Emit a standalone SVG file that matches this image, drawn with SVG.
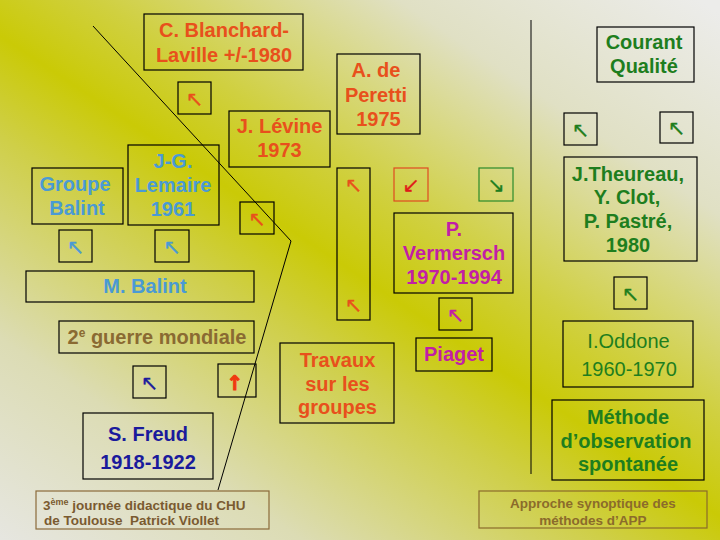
<svg xmlns="http://www.w3.org/2000/svg" width="720" height="540" viewBox="0 0 720 540">
<defs>
<linearGradient id="bg" gradientUnits="userSpaceOnUse" x1="166" y1="650" x2="631" y2="-46">
<stop offset="0" stop-color="#e6e6e0"/>
<stop offset="0.2" stop-color="#dcdcb4"/>
<stop offset="0.4" stop-color="#cfcf48"/>
<stop offset="0.5" stop-color="#caca06"/>
<stop offset="0.6" stop-color="#d0d040"/>
<stop offset="0.8" stop-color="#e0e0c4"/>
<stop offset="1" stop-color="#ececea"/>
</linearGradient>
<style>
.box{fill:none;stroke:#000;stroke-width:1.2}
.t{font-family:"Liberation Sans",Arial,sans-serif;font-weight:bold;font-size:20px;text-anchor:middle}
.n{font-weight:normal}
.or{fill:#e8501c}
.bl{fill:#4a9ad4}
.gr{fill:#1e7e1e}
.mg{fill:#c21ea6}
.db{fill:#1a1a9c}
.br{fill:#8a6a32}
.rd{fill:#e01a1a}
.a{font-family:"DejaVu Sans",sans-serif;font-size:21px;text-anchor:middle;stroke-width:0.3}
.a.or{stroke:#e8501c}.a.bl{stroke:#4a9ad4}.a.gr{stroke:#1e7e1e}.a.mg{stroke:#c21ea6}.a.db{stroke:#1a1a9c}.a.rd{stroke:#e01a1a}
.sm{font-family:"Liberation Sans",Arial,sans-serif;font-weight:bold;font-size:13.5px}
.ln{fill:none;stroke:#000;stroke-width:1}
</style>
</defs>
<rect width="720" height="540" fill="url(#bg)"/>

<g id="connectors">
<polyline class="ln" points="93,26 115,50 291,241 218,490"/>
<line class="ln" x1="531" y1="20" x2="531" y2="474" stroke-width="1.5"/>
</g>

<g id="blanchard"><rect class="box" x="144" y="14" width="159" height="56"/>
<text class="t or" x="224" y="37">C. Blanchard-</text><text class="t or" x="224" y="62">Laville +/-1980</text></g>
<g id="arr1"><rect class="box" x="178" y="82" width="33" height="32"/><text class="a or" x="194.5" y="105.5">↖</text></g>

<g id="levine"><rect class="box" x="229" y="111" width="101" height="56"/>
<text class="t or" x="279.5" y="133">J. Lévine</text><text class="t or" x="279.5" y="157">1973</text></g>

<g id="peretti"><rect class="box" x="337" y="54" width="83" height="80"/>
<text class="t or" x="376" y="77">A. de</text><text class="t or" x="376" y="101.5">Peretti</text><text class="t or" x="378.5" y="125.5">1975</text></g>

<g id="groupe-balint"><rect class="box" x="32" y="168" width="91" height="56"/>
<text class="t bl" x="75" y="190.5">Groupe</text><text class="t bl" x="77" y="214.5">Balint</text></g>

<g id="lemaire"><rect class="box" x="128" y="145" width="91" height="80"/>
<text class="t bl" x="173" y="168">J-G.</text><text class="t bl" x="173" y="192">Lemaire</text><text class="t bl" x="173" y="215.5">1961</text></g>

<g id="arr2"><rect class="box" x="240" y="202" width="34" height="32"/><text class="a or" x="257" y="225.5">↖</text></g>
<g id="arr3"><rect class="box" x="59" y="230" width="33" height="32"/><text class="a bl" x="75.5" y="253.5">↖</text></g>
<g id="arr4"><rect class="box" x="155" y="230" width="34" height="32"/><text class="a bl" x="172" y="253.5">↖</text></g>

<g id="tall"><rect class="box" x="337" y="168" width="33" height="152"/>
<text class="a or" x="353.5" y="191.5">↖</text><text class="a or" x="353.5" y="311.5">↖</text></g>

<g id="arr6"><rect class="box" x="394" y="168" width="34" height="33" style="stroke:#e04a20"/><text class="a rd" x="411" y="192">↙</text></g>
<g id="arr7"><rect class="box" x="479" y="168" width="34" height="33" style="stroke:#2a8a2a"/><text class="a gr" x="496" y="192">↘</text></g>

<g id="vermersch"><rect class="box" x="394" y="213" width="119" height="80"/>
<text class="t mg" x="454" y="236">P.</text><text class="t mg" x="454" y="260">Vermersch</text><text class="t mg" x="454" y="283.5">1970-1994</text></g>
<g id="arr8"><rect class="box" x="439" y="298" width="33" height="32"/><text class="a mg" x="455.5" y="321.5">↖</text></g>
<g id="piaget"><rect class="box" x="416" y="338" width="76" height="33"/><text class="t mg" x="454" y="361">Piaget</text></g>

<g id="travaux"><rect class="box" x="280" y="343" width="114" height="80"/>
<text class="t or" x="337.5" y="367">Travaux</text><text class="t or" x="337.5" y="391">sur les</text><text class="t or" x="337.5" y="414">groupes</text></g>

<g id="m-balint"><rect class="box" x="26" y="271" width="228" height="31"/><text class="t bl" x="145" y="293">M. Balint</text></g>
<g id="guerre"><rect class="box" x="59" y="321" width="195" height="32"/>
<text class="t br" x="157" y="343.5">2<tspan font-size="12" dy="-7">e</tspan><tspan dy="7"> guerre mondiale</tspan></text></g>
<g id="arr12"><rect class="box" x="133" y="366" width="33" height="32"/><text class="a db" x="149.5" y="389.5">↖</text></g>
<g id="arr13"><rect class="box" x="218" y="364" width="38" height="33"/><text class="a or" x="235" y="389.5" style="font-weight:bold;font-size:20px;stroke-width:1;fill:#f03a10;stroke:#f03a10">↑</text></g>

<g id="freud"><rect class="box" x="83" y="413" width="130" height="66"/>
<text class="t db" x="148" y="441" font-size="23.5">S. Freud</text><text class="t db" x="148" y="469" font-size="23.5">1918-1922</text></g>

<g id="footer"><rect x="36" y="491" width="233" height="38" fill="none" stroke="#8b6a3a" stroke-width="1.2"/>
<text class="sm" x="43" y="509.5" fill="#7a5a30">3<tspan font-size="9" dy="-5">ème</tspan><tspan dy="5"> journée didactique du CHU</tspan></text>
<text class="sm" x="44" y="525" fill="#7a5a30" xml:space="preserve">de Toulouse  Patrick Viollet</text></g>

<g id="courant"><rect class="box" x="597" y="27" width="97" height="55"/>
<text class="t gr" x="644" y="49">Courant</text><text class="t gr" x="644" y="73">Qualité</text></g>
<g id="arr9"><rect class="box" x="564" y="113" width="33" height="32"/><text class="a gr" x="580.5" y="136.5">↖</text></g>
<g id="arr10"><rect class="box" x="660" y="112" width="33" height="31"/><text class="a gr" x="676.5" y="135">↖</text></g>

<g id="theureau"><rect class="box" x="564" y="157" width="133" height="104"/>
<text class="t gr" x="628" y="180.5">J.Theureau,</text><text class="t gr" x="627" y="204">Y. Clot,</text><text class="t gr" x="628" y="228">P. Pastré,</text><text class="t gr" x="628" y="252">1980</text></g>
<g id="arr11"><rect class="box" x="614" y="277" width="33" height="32"/><text class="a gr" x="630.5" y="300.5">↖</text></g>

<g id="oddone"><rect class="box" x="563" y="321" width="130" height="66"/>
<text class="t gr n" x="628.5" y="348" font-size="23.5">I.Oddone</text><text class="t gr n" x="629" y="376" font-size="23.5">1960-1970</text></g>

<g id="methode"><rect class="box" x="552" y="400" width="152" height="80"/>
<text class="t gr" x="628" y="423.5">Méthode</text><text class="t gr" x="626" y="447.5">d’observation</text><text class="t gr" x="628" y="471">spontanée</text></g>

<g id="approche"><rect x="479" y="491" width="228" height="37" fill="none" stroke="#8b6b2b" stroke-width="1.2"/>
<text class="sm" x="593" y="508" text-anchor="middle" fill="#8b6b2b">Approche synoptique des</text>
<text class="sm" x="593" y="524.5" text-anchor="middle" fill="#8b6b2b">méthodes d’APP</text></g>
</svg>
